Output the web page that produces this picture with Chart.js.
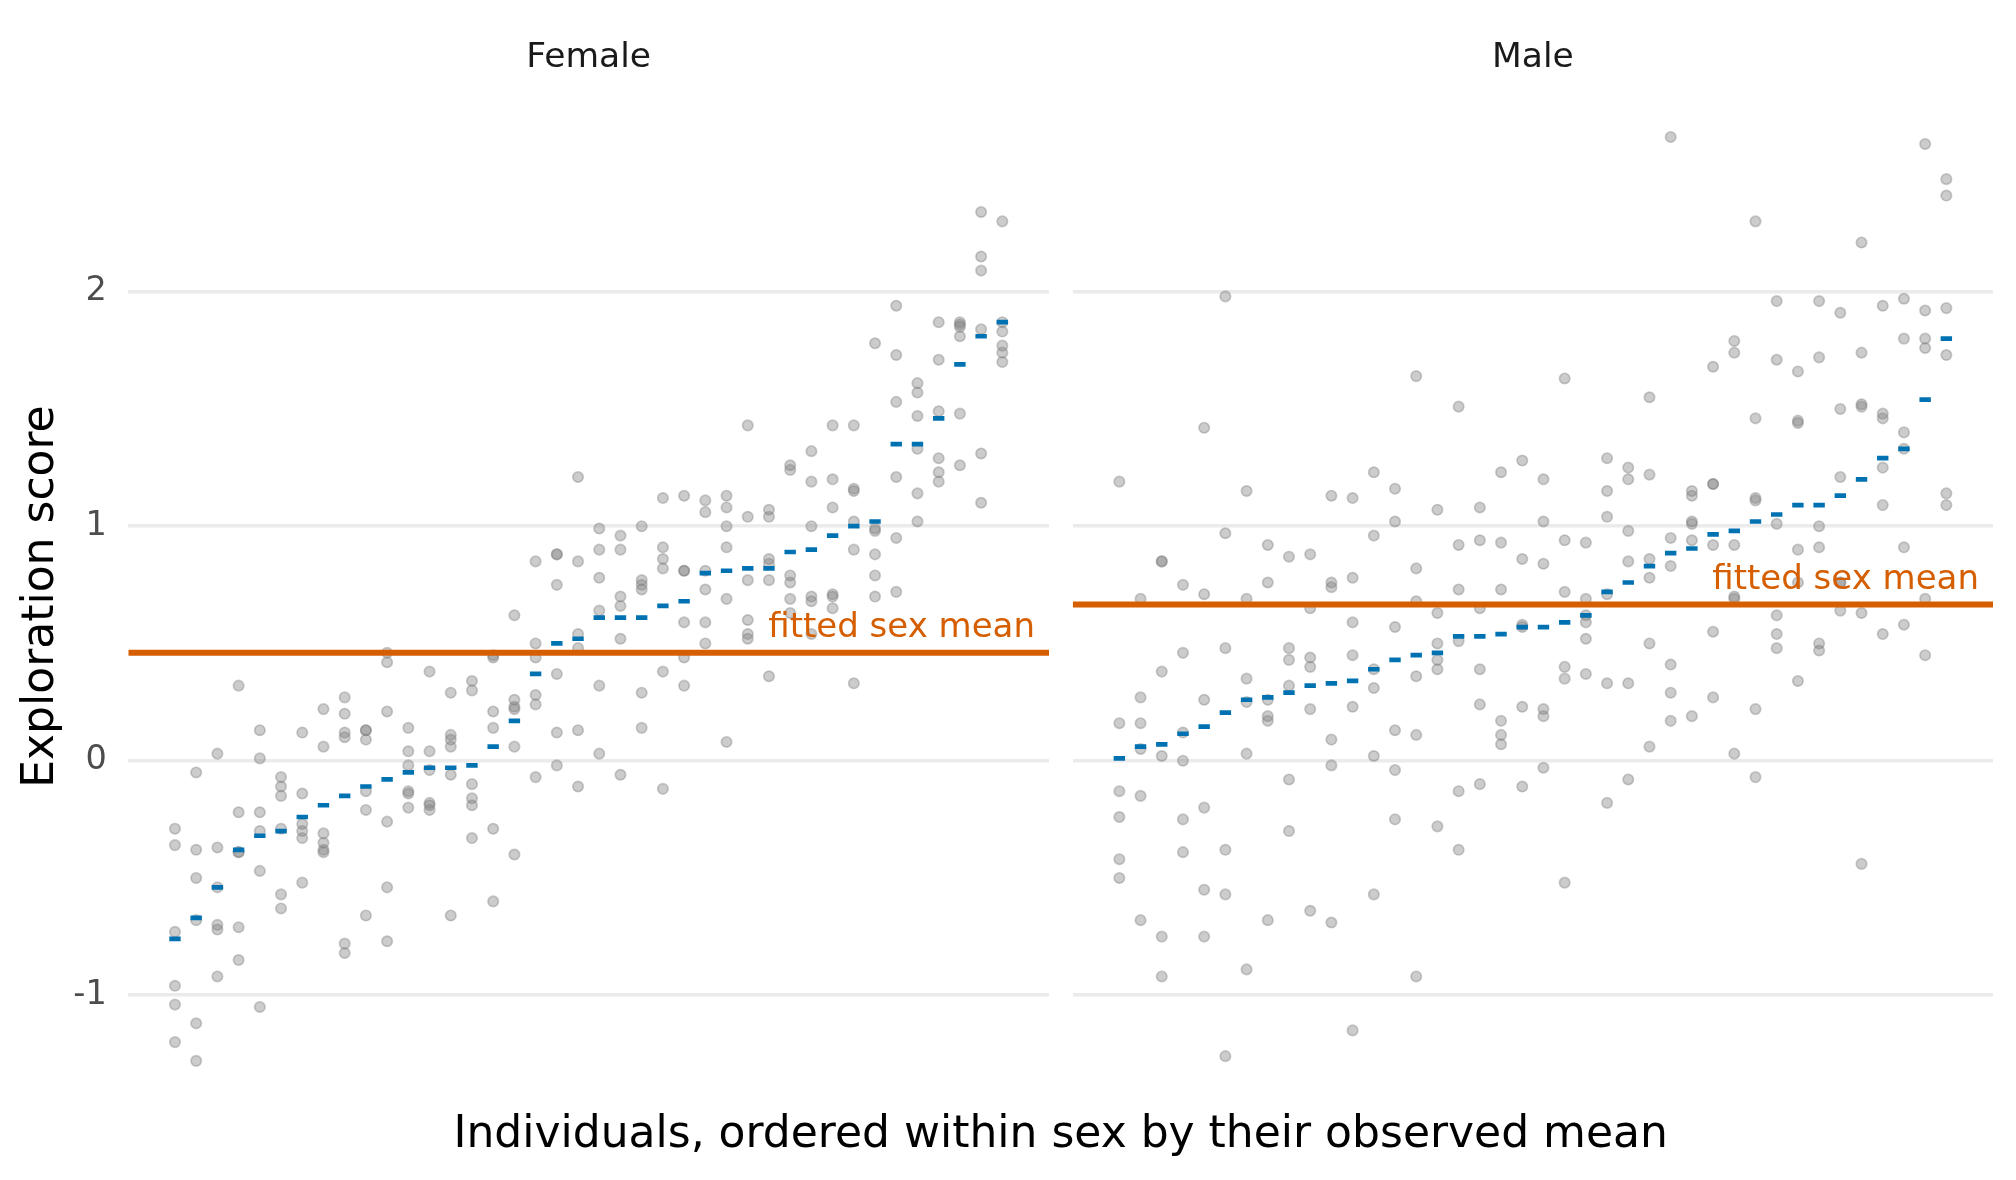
<!DOCTYPE html>
<html>
<head>
<meta charset="utf-8">
<script src="https://cdn.jsdelivr.net/npm/chart.js@4.4.1/dist/chart.umd.min.js"></script>
<style>
  html, body { margin: 0; padding: 0; background: #ffffff; overflow: hidden; }
  #wrap { position: relative; width: 2016px; height: 1180px; }
  canvas { position: absolute; left: 0; top: 0; }
</style>
</head>
<body>
<div id="wrap">
  <canvas id="cF" width="2016" height="1180"></canvas>
  <canvas id="cM" width="2016" height="1180"></canvas>
</div>
<script>
// ---------------- data ----------------
const facets = ["Female", "Male"];
const yTicks = [-1, 0, 1, 2];
const yAxisTitle = "Exploration score";
const xAxisTitle = "Individuals, ordered within sex by their observed mean";
const meanLabel = "fitted sex mean";

const femaleFittedMean = 0.46;
const maleFittedMean = 0.666;

// observed mean of each individual (ordered)
const femaleMeans = [-0.76, -0.67, -0.54, -0.38, -0.32, -0.30, -0.24, -0.19, -0.15, -0.11,
  -0.08, -0.05, -0.03, -0.03, -0.02, 0.06, 0.17, 0.37, 0.50, 0.52,
  0.61, 0.61, 0.61, 0.66, 0.68, 0.80, 0.81, 0.82, 0.82, 0.89,
  0.90, 0.96, 1.00, 1.02, 1.35, 1.35, 1.46, 1.69, 1.81, 1.87];

const maleMeans = [0.01, 0.06, 0.07, 0.115, 0.145, 0.205, 0.26, 0.27, 0.29, 0.32,
  0.33, 0.34, 0.39, 0.43, 0.45, 0.46, 0.53, 0.53, 0.54, 0.57,
  0.57, 0.59, 0.62, 0.72, 0.76, 0.83, 0.885, 0.905, 0.965, 0.98,
  1.02, 1.05, 1.09, 1.09, 1.13, 1.20, 1.29, 1.33, 1.54, 1.80];

// individual observations (one row per individual)
const femaleObs = [
  [-0.29, -0.36, -0.73, -0.96, -1.04, -1.20],
  [-0.05, -0.38, -0.50, -0.68, -1.12, -1.28],
  [0.03, -0.37, -0.54, -0.70, -0.72, -0.92],
  [0.32, -0.22, -0.39, -0.39, -0.71, -0.85],
  [0.13, 0.01, -0.22, -0.30, -0.47, -1.05],
  [-0.07, -0.11, -0.15, -0.29, -0.57, -0.63],
  [0.12, -0.14, -0.27, -0.30, -0.33, -0.52],
  [0.22, 0.06, -0.31, -0.35, -0.38, -0.39],
  [0.27, 0.20, 0.12, 0.10, -0.78, -0.82],
  [0.13, 0.13, 0.09, -0.13, -0.21, -0.66],
  [0.46, 0.42, 0.21, -0.26, -0.54, -0.77],
  [0.14, 0.04, -0.02, -0.13, -0.14, -0.20],
  [0.38, 0.04, -0.04, -0.18, -0.19, -0.21],
  [0.29, 0.11, 0.09, 0.06, -0.06, -0.66],
  [0.34, 0.30, -0.10, -0.16, -0.19, -0.33],
  [0.45, 0.44, 0.21, 0.14, -0.29, -0.60],
  [0.62, 0.26, 0.23, 0.22, 0.06, -0.40],
  [0.85, 0.50, 0.44, 0.28, 0.24, -0.07],
  [0.88, 0.88, 0.75, 0.37, 0.12, -0.02],
  [1.21, 0.85, 0.54, 0.48, 0.13, -0.11],
  [0.99, 0.90, 0.78, 0.64, 0.32, 0.03],
  [0.96, 0.90, 0.70, 0.66, 0.52, -0.06],
  [1.00, 0.77, 0.75, 0.73, 0.29, 0.14],
  [1.12, 0.91, 0.86, 0.82, 0.38, -0.12],
  [1.13, 0.81, 0.81, 0.59, 0.44, 0.32],
  [1.11, 1.06, 0.81, 0.73, 0.59, 0.50],
  [1.13, 1.08, 1.00, 0.91, 0.69, 0.08],
  [1.43, 1.04, 0.77, 0.60, 0.54, 0.52],
  [1.07, 1.04, 0.86, 0.84, 0.77, 0.36],
  [1.26, 1.24, 0.79, 0.76, 0.69, 0.63],
  [1.32, 1.19, 1.00, 0.70, 0.68, 0.54],
  [1.43, 1.20, 1.08, 0.71, 0.70, 0.65],
  [1.43, 1.16, 1.15, 1.02, 0.90, 0.33],
  [1.78, 0.99, 0.98, 0.88, 0.79, 0.70],
  [1.94, 1.73, 1.53, 1.21, 0.95, 0.72],
  [1.61, 1.57, 1.47, 1.33, 1.14, 1.02],
  [1.87, 1.71, 1.49, 1.29, 1.23, 1.19],
  [1.87, 1.86, 1.85, 1.81, 1.48, 1.26],
  [2.34, 2.15, 2.09, 1.84, 1.31, 1.10],
  [2.30, 1.87, 1.83, 1.77, 1.74, 1.70]
];

const maleObs = [
  [1.19, 0.16, -0.13, -0.24, -0.42, -0.50],
  [0.69, 0.27, 0.16, 0.05, -0.15, -0.68],
  [0.85, 0.85, 0.38, 0.02, -0.75, -0.92],
  [0.75, 0.46, 0.12, 0.00, -0.25, -0.39],
  [1.42, 0.71, 0.26, -0.20, -0.55, -0.75],
  [1.98, 0.97, 0.48, -0.38, -0.57, -1.26],
  [1.15, 0.69, 0.35, 0.25, 0.03, -0.89],
  [0.92, 0.76, 0.26, 0.19, 0.17, -0.68],
  [0.87, 0.48, 0.43, 0.32, -0.08, -0.30],
  [0.88, 0.65, 0.44, 0.40, 0.22, -0.64],
  [1.13, 0.76, 0.74, 0.09, -0.02, -0.69],
  [1.12, 0.78, 0.59, 0.45, 0.23, -1.15],
  [1.23, 0.96, 0.39, 0.31, 0.02, -0.57],
  [1.16, 1.02, 0.57, 0.13, -0.04, -0.25],
  [1.64, 0.82, 0.68, 0.36, 0.11, -0.92],
  [1.07, 0.63, 0.50, 0.43, 0.39, -0.28],
  [1.51, 0.92, 0.73, 0.51, -0.13, -0.38],
  [1.08, 0.94, 0.65, 0.39, 0.24, -0.10],
  [1.23, 0.93, 0.73, 0.17, 0.11, 0.07],
  [1.28, 0.86, 0.58, 0.57, 0.23, -0.11],
  [1.20, 1.02, 0.84, 0.22, 0.19, -0.03],
  [1.63, 0.94, 0.72, 0.40, 0.35, -0.52],
  [0.93, 0.69, 0.62, 0.59, 0.52, 0.37],
  [1.29, 1.15, 1.04, 0.71, 0.33, -0.18],
  [1.25, 1.20, 0.98, 0.85, 0.33, -0.08],
  [1.55, 1.22, 0.86, 0.78, 0.50, 0.06],
  [2.66, 0.95, 0.83, 0.41, 0.29, 0.17],
  [1.15, 1.13, 1.02, 1.01, 0.94, 0.19],
  [1.68, 1.18, 1.18, 0.92, 0.55, 0.27],
  [1.79, 1.74, 0.92, 0.70, 0.69, 0.03],
  [2.30, 1.46, 1.12, 1.11, 0.22, -0.07],
  [1.96, 1.71, 1.01, 0.62, 0.54, 0.48],
  [1.66, 1.45, 1.44, 0.90, 0.76, 0.34],
  [1.96, 1.72, 1.00, 0.91, 0.50, 0.47],
  [1.91, 1.50, 1.21, 0.76, 0.76, 0.64],
  [2.21, 1.74, 1.52, 1.51, 0.63, -0.44],
  [1.94, 1.48, 1.46, 1.25, 1.09, 0.54],
  [1.97, 1.80, 1.40, 1.33, 0.91, 0.58],
  [2.63, 1.92, 1.80, 1.76, 0.69, 0.45],
  [2.48, 2.41, 1.93, 1.73, 1.14, 1.09]
];

// ---------------- styling / layout ----------------
const FONT = "'DejaVu Sans'";
const X_MIN = -1.2, X_MAX = 42.2;
const Y_MIN = -1.5, Y_MAX = 2.9;
const W = 2016, H = 1180;
const PANEL_TOP = 80.65, PANEL_BOTTOM = 1112.45;

Chart.defaults.font.family = FONT;
Chart.defaults.animation = false;

const facetPlugin = {
  id: 'facetText',
  afterDraw(chart, args, opts) {
    const { ctx, chartArea, scales } = chart;
    ctx.save();
    ctx.textBaseline = 'alphabetic';
    // strip title
    ctx.font = '34.5px ' + FONT;
    ctx.fillStyle = '#1A1A1A';
    ctx.textAlign = 'center';
    ctx.fillText(opts.title, (chartArea.left + chartArea.right) / 2, 67);
    // fitted mean label
    ctx.font = '34px ' + FONT;
    ctx.fillStyle = '#D55E00';
    ctx.textAlign = 'right';
    ctx.fillText(opts.label, chartArea.right - 14, scales.y.getPixelForValue(opts.mean) - 16);
    // shared x axis title
    if (opts.xTitle) {
      ctx.font = '44px ' + FONT;
      ctx.fillStyle = '#000000';
      ctx.textAlign = 'center';
      ctx.fillText(opts.xTitle, opts.xTitleX, 1147);
    }
    ctx.restore();
  }
};

function makeChart(canvasId, obs, means, fittedMean, title, isLeft) {
  const pts = [];
  obs.forEach((row, i) => row.forEach(v => pts.push({ x: i + 1, y: v })));
  const dashes = means.map((m, i) => ({ x: i + 1, y: m }));
  const hline = [{ x: X_MIN, y: fittedMean }, { x: X_MAX, y: fittedMean }];

  const padding = isLeft
    ? { left: 0, right: W - 1049, top: PANEL_TOP, bottom: H - PANEL_BOTTOM }
    : { left: 1072.7, right: W - 1993, top: PANEL_TOP, bottom: H - PANEL_BOTTOM };

  return new Chart(document.getElementById(canvasId), {
    type: 'scatter',
    data: {
      datasets: [
        {
          label: 'observations',
          data: pts,
          pointRadius: 5.2,
          pointBorderWidth: 1.7,
          backgroundColor: 'rgba(127,127,127,0.4)',
          borderColor: 'rgba(127,127,127,0.4)',
          order: 3
        },
        {
          type: 'line',
          label: 'fitted sex mean',
          data: hline,
          borderColor: '#D55E00',
          borderWidth: 6,
          pointRadius: 0,
          fill: false,
          order: 2
        },
        {
          label: 'observed mean',
          data: dashes,
          pointStyle: 'line',
          pointRadius: 5.7,
          pointBorderWidth: 4.7,
          borderColor: '#0072B2',
          backgroundColor: '#0072B2',
          order: 1
        }
      ]
    },
    options: {
      responsive: false,
      devicePixelRatio: 1,
      events: [],
      layout: { padding },
      plugins: {
        legend: { display: false },
        tooltip: { enabled: false },
        facetText: {
          title,
          label: meanLabel,
          mean: fittedMean,
          xTitle: isLeft ? xAxisTitle : null,
          xTitleX: (128.3 + 1993) / 2
        }
      },
      scales: {
        x: { type: 'linear', min: X_MIN, max: X_MAX, display: false },
        y: {
          type: 'linear',
          min: Y_MIN,
          max: Y_MAX,
          position: 'left',
          afterBuildTicks: s => { s.ticks = yTicks.map(v => ({ value: v })); },
          afterFit: s => { s.width = isLeft ? 128.3 : 0; },
          border: { display: false },
          grid: { color: '#EBEBEB', lineWidth: 3.5, drawTicks: false },
          ticks: {
            display: isLeft,
            padding: 21.6,
            color: '#4D4D4D',
            font: { family: FONT, size: 33.5 },
            callback: v => String(v)
          },
          title: {
            display: isLeft,
            text: yAxisTitle,
            color: '#000000',
            font: { family: FONT, size: 44 },
            padding: { top: 15.3, bottom: 0 }
          }
        }
      }
    },
    plugins: [facetPlugin]
  });
}

makeChart('cF', femaleObs, femaleMeans, femaleFittedMean, facets[0], true);
makeChart('cM', maleObs, maleMeans, maleFittedMean, facets[1], false);
</script>
</body>
</html>
